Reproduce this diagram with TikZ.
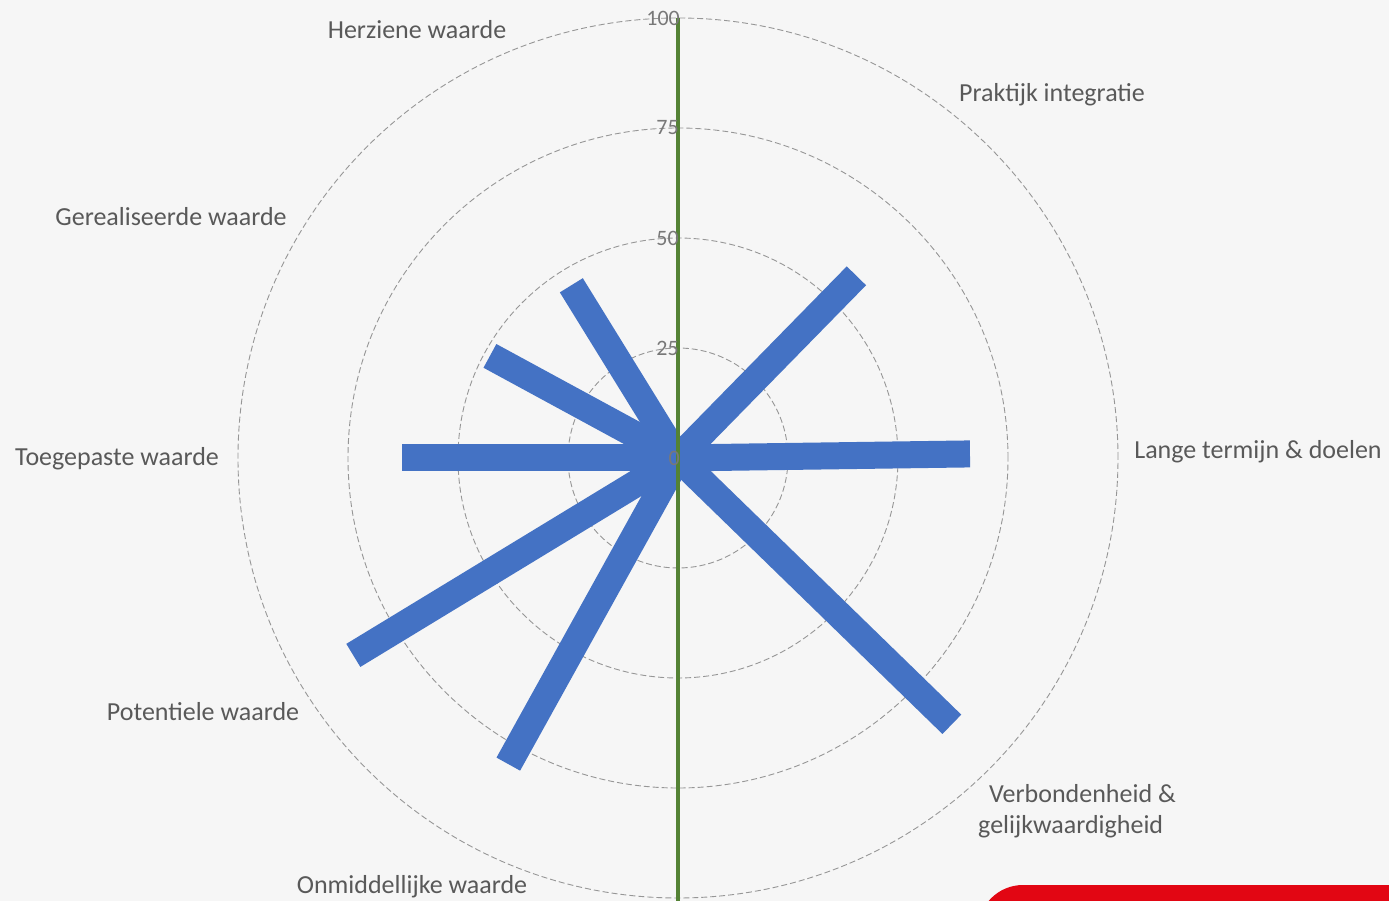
\documentclass[tikz,border=0pt]{standalone}
\usepackage{fontspec}
\setmainfont{Carlito}
\usetikzlibrary{positioning}

\definecolor{bgcol}{RGB}{246,246,246}
\definecolor{barblue}{RGB}{68,114,196}
\definecolor{axisgreen}{RGB}{84,130,53}
\definecolor{gridgray}{RGB}{150,150,150}
\definecolor{labelgray}{RGB}{89,89,89}
\definecolor{tickgray}{RGB}{120,120,120}
\definecolor{cornerred}{RGB}{226,6,19}

\begin{document}
\begin{tikzpicture}[
    x=1pt, y=1pt,
    % Define styles
    ring/.style={draw=gridgray, line width=0.9pt, dash pattern=on 6pt off 3pt},
    bar/.style={draw=barblue, line width=27pt},
    axis/.style={draw=axisgreen, line width=4pt},
    tick/.style={anchor=east, inner sep=0pt, font=\fontsize{22}{24}\selectfont, text=tickgray},
    catlabel/.style={font=\fontsize{26}{31}\selectfont, text=labelgray, inner sep=0pt, align=center},
    ]

    % Background and frame
    \useasboundingbox (-678,-443) rectangle (711,458);
    \fill[bgcol] (-678,-443) rectangle (711,458);
    \fill[cornerred, rounded corners=45pt] (300,-427) rectangle (760,-520);

    \coordinate (c) at (0,0);

    % Grid rings
    \foreach \r in {110,220,330,440}
        \draw[ring] (c) circle (\r);

    % Bars (angle/length)
    \foreach \a/\l in {45.6/255, 0.8/292, -44.2/382, 241/350, 211.3/380, 180/276, 151.5/214, 121.7/203}
        \draw[bar] (c) -- ++(\a:\l);

    % Vertical axis
    \coordinate (axtop) at (0,440);
    \coordinate (axbot) at (0,-443);
    \draw[axis] (axtop) -- (axbot);

    % Scale labels
    \node[tick] (t0) at (2,0) {0};
    \node[tick] (t25) at (1,110) {25};
    \node[tick] (t50) at (1,220) {50};
    \node[tick] (t75) at (1,330) {75};
    \node[tick] (t100) at (2,440) {100};

    % Category labels
    \node[catlabel] (herz) at (-261,428) {Herziene waarde};
    \node[catlabel] (prak) at (374,363) {Praktijk integratie};
    \node[catlabel] (lang) at (580,6) {Lange termijn \& doelen};
    \node[catlabel, align=left] (verb) at (399,-353) {\hspace*{11pt}Verbondenheid \&\\gelijkwaardigheid};
    \node[catlabel] (onmi) at (-266,-429) {Onmiddellijke waarde};
    \node[catlabel] (pote) at (-475,-254) {Potentiele waarde};
    \node[catlabel] (toeg) at (-561,-1) {Toegepaste waarde};
    \node[catlabel] (gere) at (-507,241) {Gerealiseerde waarde};

\end{tikzpicture}
\end{document}
